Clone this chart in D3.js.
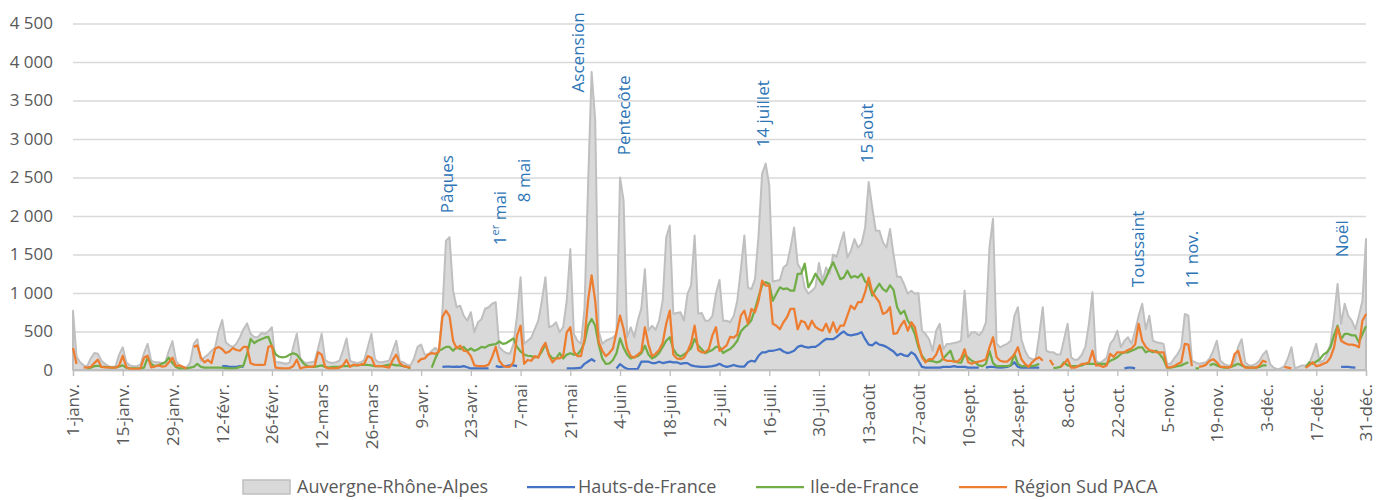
<!DOCTYPE html>
<html>
<head>
<meta charset="utf-8">
<script src="https://cdn.jsdelivr.net/npm/d3@7"></script>
<style>
  body { margin: 0; background: #fff; }
  svg text { font-family: "Open Sans", sans-serif; }
</style>
</head>
<body>
<svg id="chart" width="1385" height="500"></svg>
<script>
// Données journalières 2017 (une ligne = une semaine, dimanche en tête)
const seriesNames = ["Auvergne-Rhône-Alpes", "Hauts-de-France", "Ile-de-France", "Région Sud PACA"];

const ara = [
  770,170,100,60,50,150,220,  210,120,80,50,40,50,200,  295,100,60,50,50,70,220,
  340,120,100,100,90,100,250,  375,120,60,40,35,100,340,  400,120,165,200,250,290,510,
  650,360,320,300,340,425,530,  605,470,430,425,480,470,500,  555,100,100,90,80,100,300,
  470,150,100,90,100,110,280,  470,130,100,90,100,120,250,  410,120,100,90,100,130,300,
  470,140,100,100,110,120,250,  380,110,100,70,60,150,300,  330,200,200,250,290,250,770,
  1680,1725,1030,815,835,705,640,  750,490,620,660,795,815,860,  880,295,250,220,210,340,700,
  1205,340,380,420,530,640,900,  1205,555,575,620,490,560,900,  1570,468,380,340,800,2400,3870,
  3250,500,340,380,400,420,470,  2500,2200,425,555,425,640,800,  1310,510,575,520,640,900,1720,
  1876,730,740,750,640,990,1100,  1746,730,740,640,640,700,990,  1170,640,640,620,700,900,1300,
  1746,1070,1050,1180,1750,2550,2680,  2400,1150,1160,1170,1330,1370,1590,  1850,1380,1300,1070,990,1030,1075,
  1390,1160,1330,1250,1500,1470,1640,  1790,1460,1550,1700,1590,1640,1850,  2440,2110,1810,1810,1660,1590,1830,
  1500,1210,1210,1110,990,1030,990,  1000,510,468,400,250,511,600,  270,338,340,350,360,381,1030,
  425,490,490,450,500,620,1594,  1965,340,295,320,340,380,700,  815,400,250,165,140,140,450,
  815,250,230,230,200,200,400,  600,165,130,140,200,300,600,  1010,120,90,120,160,340,400,
  510,295,380,425,340,510,705,  860,530,705,380,360,350,340,  80,80,150,208,300,728,705,
  120,100,80,90,100,150,250,  380,120,80,60,60,100,300,  400,100,60,60,80,120,200,
  250,80,30,10,20,50,150,  295,20,40,60,60,80,200,  340,100,120,200,340,685,1118,
  600,860,705,640,530,705,900,  1700
];

const n = null;
const hdf = [
  n,n,n,n,n,n,n,  n,n,n,n,n,n,n,  n,n,n,n,n,n,n,
  n,n,n,n,n,n,n,  n,n,n,n,n,n,n,  n,n,n,n,n,n,n,
  50,50,40,40,40,50,40,  n,n,n,n,n,n,n,  n,n,n,n,n,n,n,
  n,n,n,n,n,n,n,  n,n,n,n,n,n,n,  n,n,n,n,n,n,n,
  n,n,n,n,n,n,n,  n,n,n,n,n,n,n,  n,n,n,n,n,n,40,
  45,45,40,45,40,50,35,  20,20,20,20,20,20,n,  50,40,45,50,60,60,50,
  n,n,n,n,n,n,n,  n,n,n,n,n,n,20,  20,20,25,30,80,110,140,
  110,n,n,n,n,n,20,  75,40,15,10,10,15,108,  110,108,90,90,108,90,100,
  108,100,100,80,90,90,60,  50,45,40,40,45,50,60,  80,55,40,50,65,50,45,
  45,100,120,110,185,230,230,  250,250,260,273,240,220,230,  250,300,316,300,290,300,300,
  330,370,403,400,400,430,470,  500,460,450,460,470,490,400,  330,320,360,330,320,300,270,
  240,190,210,190,180,230,200,  120,40,30,30,30,30,30,  40,40,40,50,40,40,40,
  30,30,30,30,n,30,40,  40,35,30,35,40,60,100,  40,30,30,30,30,30,30,
  n,n,n,n,n,n,n,  n,n,n,n,n,n,n,  n,n,n,n,n,n,n,
  n,n,20,30,30,20,n,  n,n,n,n,n,n,n,  n,n,n,n,n,n,n,
  n,n,n,n,n,n,n,  n,n,n,n,n,n,n,  n,n,n,n,n,n,n,
  n,n,n,n,n,n,n,  n,n,n,n,n,n,n,  n,n,n,n,n,n,n,
  40,40,40,35,30,n,n,  n
];

const idf = [
  n,n,n,n,20,30,50,  55,45,40,35,30,35,45,  60,30,20,20,20,20,30,
  160,80,50,60,80,100,160,  90,40,20,20,20,30,40,  80,40,30,30,30,30,30,
  30,25,20,20,25,40,60,  208,403,350,380,400,420,430,  310,207,172,165,172,200,218,
  200,140,80,50,40,40,50,  60,40,30,40,40,40,50,  50,50,60,60,65,65,65,
  60,50,50,50,60,70,70,  60,60,50,40,20,n,n,  n,n,n,30,150,250,273,
  300,300,250,300,270,300,250,  280,250,270,300,290,320,330,  337,370,340,350,380,410,300,
  240,200,185,180,165,175,240,  337,200,150,150,218,150,200,  218,200,200,260,360,577,663,
  577,330,150,78,85,130,218,  410,290,200,150,170,180,218,  316,200,150,175,220,300,380,
  425,273,200,175,200,240,280,  403,316,270,218,240,260,300,  300,220,250,273,316,380,500,
  552,590,650,790,950,1100,1140,  1120,900,990,1074,1050,1060,1030,  1030,1248,1250,1380,1074,1150,1250,
  1180,1110,1200,1310,1400,1290,1180,  1200,1290,1200,1220,1200,1250,1150,  1120,965,1050,1120,1050,1020,1100,
  1040,815,728,770,640,575,468,  295,185,120,120,115,100,110,  150,200,250,120,100,95,200,
  160,120,100,60,50,80,250,  90,50,50,50,50,60,208,  80,50,50,50,50,60,80,
  n,n,n,25,30,40,100,  60,50,50,50,60,80,80,  80,80,80,80,80,120,140,
  165,208,230,230,250,270,295,  295,230,250,230,250,200,140,  30,30,40,50,60,80,100,
  n,20,20,n,n,60,80,  60,40,30,30,40,60,80,  60,40,30,30,30,40,60,
  60,n,n,n,n,n,n,  n,n,n,n,30,100,80,  110,140,200,230,295,450,575,
  400,468,468,450,450,360,468,  570
];

const paca = [
  285,78,n,35,30,40,90,  134,40,35,35,30,30,60,  185,40,15,15,15,20,160,
  185,35,45,60,45,50,100,  160,50,60,40,15,n,300,  320,160,100,130,90,277,300,
  270,220,240,285,260,250,300,  300,87,70,65,65,70,300,  316,30,25,20,20,25,50,
  134,20,35,40,40,50,230,  200,40,20,20,20,30,60,  130,40,70,60,70,80,180,
  160,50,50,50,40,30,130,  200,90,50,40,30,n,100,  140,150,200,220,210,240,690,
  770,700,380,280,316,250,240,  180,60,50,50,50,70,170,  300,120,60,40,40,100,446,
  575,80,130,120,180,160,280,  353,185,100,150,150,185,490,  555,240,180,180,400,900,1230,
  900,360,250,180,220,280,490,  706,533,280,180,160,200,240,  555,330,180,210,260,350,600,
  770,200,150,140,160,240,350,  577,260,230,230,273,450,555,  250,280,320,430,420,460,706,
  770,600,793,750,900,1160,1095,  1100,600,575,530,620,685,795,  795,530,640,620,530,640,560,
  530,510,600,490,620,490,575,  575,705,835,790,880,880,1010,  1200,1010,945,880,728,750,815,
  468,480,575,640,510,620,555,  340,165,100,140,140,200,320,  140,120,120,110,110,150,270,
  100,80,100,110,120,140,295,  425,165,120,110,110,150,200,  295,140,80,40,100,140,165,
  120,n,130,60,n,40,80,  140,30,30,50,80,80,100,  250,60,60,40,60,210,170,
  230,230,230,260,280,330,600,  380,300,260,250,230,230,230,  35,35,50,80,100,340,330,
  50,n,40,50,70,120,140,  100,40,40,30,40,208,250,  80,30,30,30,30,60,120,
  100,n,n,n,n,40,30,  20,n,n,n,30,60,100,  50,60,80,100,165,290,555,
  380,350,330,330,320,295,640,  728
];

const yTicks = [0, 500, 1000, 1500, 2000, 2500, 3000, 3500, 4000, 4500];
const tickLabels = ["1-janv.", "15-janv.", "29-janv.", "12-févr.", "26-févr.", "12-mars", "26-mars",
  "9-avr.", "23-avr.", "7-mai", "21-mai", "4-juin", "18-juin", "2-juil.", "16-juil.", "30-juil.",
  "13-août", "27-août", "10-sept.", "24-sept.", "8-oct.", "22-oct.", "5-nov.", "19-nov.",
  "3-déc.", "17-déc.", "31-déc."];

// Annotations : libellé, jour où il est ancré, niveau (valeur) où il commence
const holidayLabels = ["Pâques", "1er mai", "8 mai", "Ascension", "Pentecôte", "14 juillet", "15 août", "Toussaint", "11 nov.", "Noël"];
const holidayDays   = [107, 121.9, 128.7, 143.9, 156.8, 195.9, 225.2, 301.5, 316.7, 359.0];
const holidayLevels = [2036, 1621, 2179, 3605, 2788, 2892, 2684, 1076, 1063, 1465];

const colors = ["#D9D9D9", "#4472C4", "#70AD47", "#ED7D31"];

// ---- Dessin ----
const svg = d3.select("#chart");

const x = d3.scaleLinear().domain([0, ara.length - 1]).range([73, 1366]);
const y = d3.scaleLinear().domain([0, 4500]).range([370, 23.5]);

const fr = d3.formatLocale({ decimal: ",", thousands: " ", grouping: [3], currency: ["", " €"] });
const fmt = fr.format(",d");

// grille + axe vertical
const yAxis = svg.append("g")
  .attr("transform", `translate(${x.range()[0]},0)`)
  .call(d3.axisLeft(y).tickValues(yTicks).tickSize(-(x.range()[1] - x.range()[0])).tickFormat(fmt).tickPadding(20));
yAxis.select(".domain").remove();
yAxis.selectAll(".tick line").attr("stroke", "#D9D9D9").attr("stroke-width", 1.3);
yAxis.selectAll(".tick text")
  .attr("fill", "#595959").style("font-size", "17px");

// aire Auvergne-Rhône-Alpes
const area = d3.area()
  .x((d, i) => x(i))
  .y0(y(0))
  .y1(d => y(d));
svg.append("path")
  .datum(ara)
  .attr("d", area)
  .attr("fill", colors[0])
  .attr("stroke", "#BFBFBF")
  .attr("stroke-width", 2)
  .attr("stroke-linejoin", "round");

// lignes
const line = d3.line()
  .defined(d => d != null)
  .x((d, i) => x(i))
  .y(d => y(d));

[[hdf, colors[1]], [idf, colors[2]], [paca, colors[3]]].forEach(([data, c]) => {
  svg.append("path")
    .datum(data)
    .attr("d", line)
    .attr("fill", "none")
    .attr("stroke", c)
    .attr("stroke-width", 2.25)
    .attr("stroke-linejoin", "round");
});

// axe horizontal
const tickDays = tickLabels.map((_, i) => i * 14);
const xAxis = svg.append("g")
  .attr("transform", `translate(0,${y(0)})`)
  .call(d3.axisBottom(x).tickValues(tickDays).tickFormat((d, i) => tickLabels[i]).tickSizeOuter(0).tickSize(6));
xAxis.select(".domain").attr("stroke", "#BFBFBF").attr("stroke-width", 1.3);
xAxis.selectAll(".tick line").attr("stroke", "#BFBFBF").attr("stroke-width", 1.3);
xAxis.selectAll(".tick text")
  .attr("fill", "#595959")
  .style("font-size", "17px")
  .attr("text-anchor", "end")
  .attr("transform", "rotate(-90)")
  .attr("x", -14)
  .attr("y", 0)
  .attr("dy", "0.35em");

// annotations des jours fériés
holidayLabels.forEach((lab, i) => {
  const t = svg.append("text")
    .attr("transform", `translate(${x(holidayDays[i])},${y(holidayLevels[i])}) rotate(-90)`)
    .attr("fill", "#2E75B6")
    .style("font-size", "17px");
  if (lab.startsWith("1er")) {
    t.append("tspan").text("1");
    t.append("tspan").text("er").attr("dy", -7).style("font-size", "11px");
    t.append("tspan").text(" mai").attr("dy", 7);
  } else {
    t.text(lab);
  }
});

// légende
const legend = svg.append("g").style("font-size", "18px");
const legendY = 487;
const items = [
  { x: 243, tx: 297 },
  { x: 527, tx: 578 },
  { x: 756, tx: 810 },
  { x: 959, tx: 1014 }
];
items.forEach((it, i) => {
  if (i === 0) {
    legend.append("rect").attr("x", it.x).attr("y", legendY - 7).attr("width", 47).attr("height", 14)
      .attr("fill", colors[0]).attr("stroke", "#BFBFBF").attr("stroke-width", 1.5);
  } else {
    legend.append("line").attr("x1", it.x).attr("x2", it.x + 48).attr("y1", legendY).attr("y2", legendY)
      .attr("stroke", colors[i]).attr("stroke-width", 2.25);
  }
  legend.append("text").attr("x", it.tx).attr("y", legendY).attr("dy", "0.35em")
    .attr("fill", "#595959").text(seriesNames[i]);
});
</script>
</body>
</html>
